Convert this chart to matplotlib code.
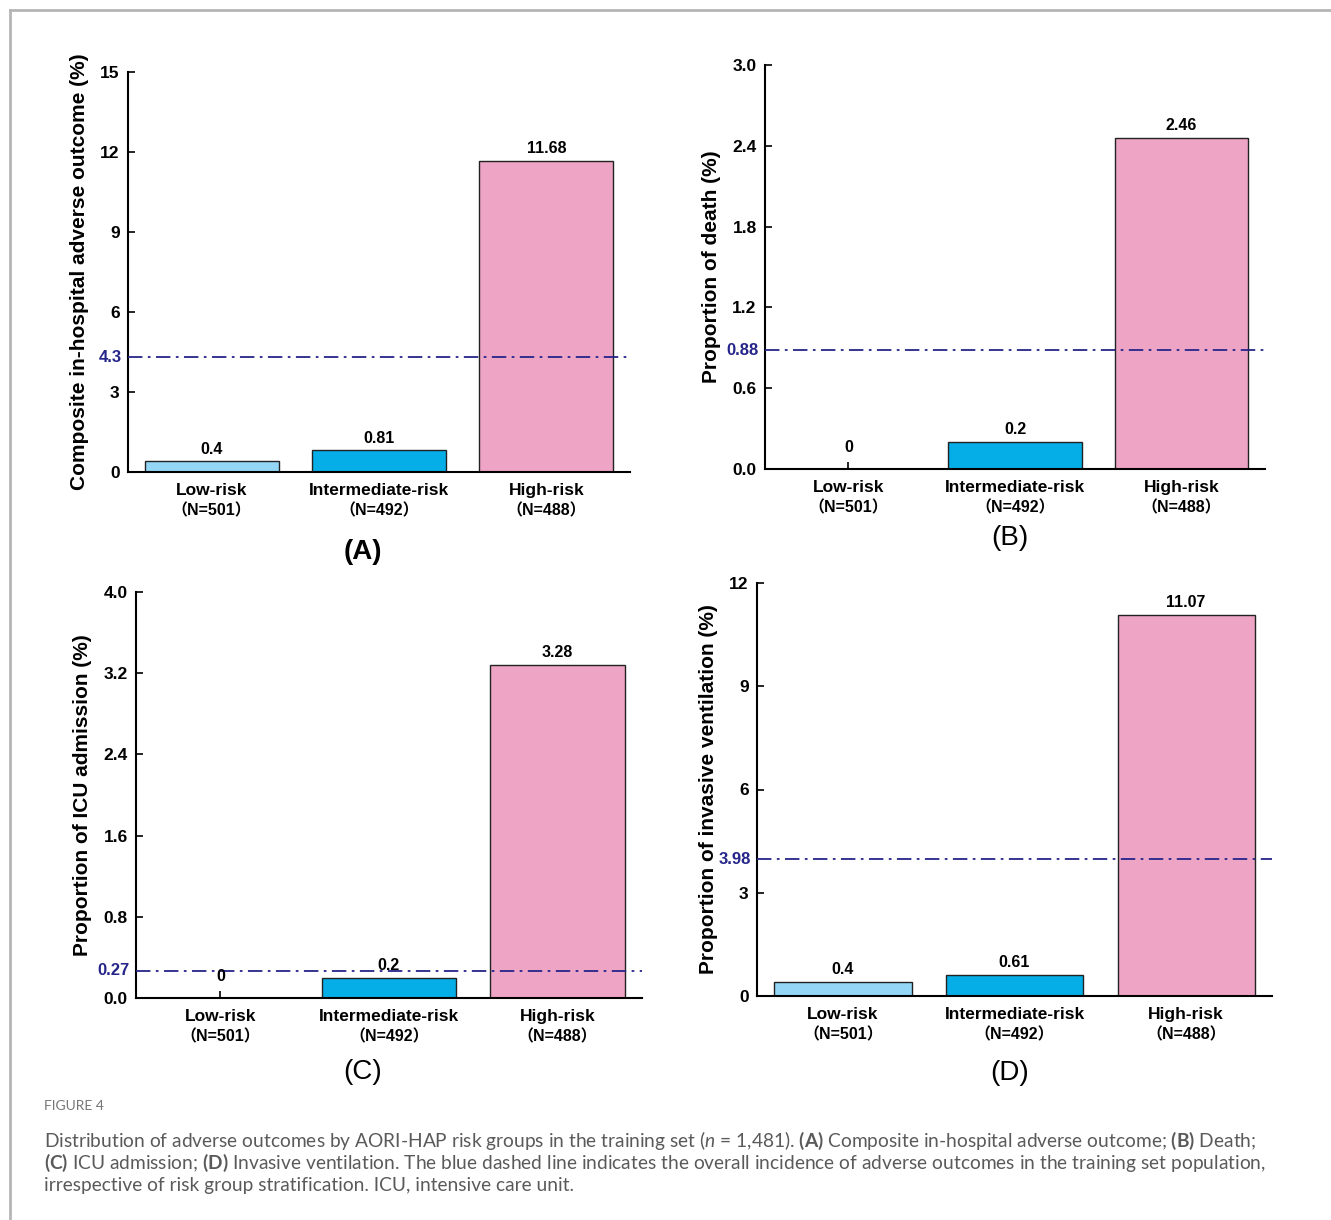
import numpy as np
import matplotlib
matplotlib.use("Agg")
import matplotlib.pyplot as plt
from matplotlib.lines import Line2D

plt.rcParams['font.family'] = ['Liberation Sans', 'Noto Sans CJK SC', 'DejaVu Sans']
plt.rcParams['mathtext.fontset'] = 'custom'
plt.rcParams['mathtext.rm'] = 'Lato'
plt.rcParams['mathtext.bf'] = 'Lato:bold'
plt.rcParams['mathtext.it'] = 'Lato:italic'

# data
groups = ["Low-risk", "Intermediate-risk", "High-risk"]
group_n = ["（N=501）", "（N=492）", "（N=488）"]
composite = [0.4, 0.81, 11.68]
death = [0, 0.2, 2.46]
icu = [0, 0.2, 3.28]
ventilation = [0.4, 0.61, 11.07]
overall = [4.3, 0.88, 0.27, 3.98]
panel_letters = ["(A)", "(B)", "(C)", "(D)"]
ylabels = ["Composite in-hospital adverse outcome (%)", "Proportion of death (%)",
           "Proportion of ICU admission (%)", "Proportion of invasive ventilation (%)"]
yticks = [[0, 3, 6, 9, 12, 15], [0.0, 0.6, 1.2, 1.8, 2.4, 3.0],
          [0.0, 0.8, 1.6, 2.4, 3.2, 4.0], [0, 3, 6, 9, 12]]
yfmt = ["{:.0f}", "{:.1f}", "{:.1f}", "{:.0f}"]
values = [composite, death, icu, ventilation]

bar_colors = ["#93d6f5", "#05aee6", "#eea4c5"]
navy = "#25258a"

W, H = 1331, 1220
fig = plt.figure(figsize=(W / 100, H / 100), dpi=100)

# axes boxes in pixels: left, right, top, bottom
boxes = [(128, 630, 72, 472), (765, 1265, 65, 469),
         (136, 642, 592, 998), (757, 1272, 583, 996)]
letter_xy = [(363, 552), (1010, 538), (363, 1072), (1010, 1073)]
letter_w = ["bold", "normal", "normal", "normal"]

for i in range(4):
    l, r, t, b = boxes[i]
    ax = fig.add_axes([l / W, 1 - b / H, (r - l) / W, (b - t) / H])
    x = np.arange(3)
    ax.bar(x, values[i], width=0.8, color=bar_colors, edgecolor="#222222", linewidth=1.0, zorder=2)
    ax.set_xlim(-0.5, 2.5)
    top = yticks[i][-1]
    ax.set_ylim(0, top)
    for xi, v in zip(x, values[i]):
        off = 0.012 if v > 0 else 0.035
        ax.text(xi, v + top * off, "{:g}".format(v), ha="center", va="bottom",
                fontsize=11.5, fontweight="bold", zorder=4)
    ax.axhline(overall[i], color=navy, linestyle=(0, (8, 3, 1.5, 3)), linewidth=1.3, zorder=3)
    ax.text(-0.012, overall[i], "{:g}".format(overall[i]), transform=ax.get_yaxis_transform(),
            ha="right", va="center", color=navy, fontsize=12, fontweight="bold")
    ax.set_yticks(yticks[i])
    ax.set_yticklabels([yfmt[i].format(v) for v in yticks[i]], fontsize=12.5, fontweight="bold")
    ax.set_xticks(x)
    ax.set_xticklabels(groups, fontsize=12.5, fontweight="bold")
    for xi, n in zip(x, group_n):
        ax.text(xi, -39 / (b - t), n, transform=ax.get_xaxis_transform(), ha="center", va="center",
                fontsize=11.5, fontweight="bold")
    ax.tick_params(axis="both", direction="in", length=5, width=1.2, pad=6)
    ax.tick_params(axis="x", pad=8)
    ax.spines["top"].set_visible(False)
    ax.spines["right"].set_visible(False)
    ax.spines["left"].set_linewidth(1.5)
    ax.spines["bottom"].set_linewidth(1.5)
    ax.set_ylabel(ylabels[i], fontsize=15, fontweight="bold", labelpad=8)
    lx, ly = letter_xy[i]
    fig.text(lx / W, 1 - ly / H, panel_letters[i], ha="center", va="center",
             fontsize=20, fontweight=letter_w[i])

# outer frame
fig.add_artist(Line2D([10 / W, 1], [1 - 10 / H, 1 - 10 / H], color="#b5b5b5", linewidth=2, transform=fig.transFigure))
fig.add_artist(Line2D([10 / W, 10 / W], [1 - 10 / H, 0], color="#b5b5b5", linewidth=2, transform=fig.transFigure))

# caption
cap_color = "#5a5a5a"
fig.text(44 / W, 1 - 1106 / H, "FIGURE 4", fontsize=10, color="#777777", va="center", family="Lato")
cap_lines = [
    r"Distribution of adverse outcomes by AORI-HAP risk groups in the training set ($\it{n}$ = 1,481). $\bf{(A)}$ Composite in-hospital adverse outcome; $\bf{(B)}$ Death;",
    r"$\bf{(C)}$ ICU admission; $\bf{(D)}$ Invasive ventilation. The blue dashed line indicates the overall incidence of adverse outcomes in the training set population,",
    "irrespective of risk group stratification. ICU, intensive care unit.",
]
cap_y = [1141, 1163, 1186]
for s, yy in zip(cap_lines, cap_y):
    fig.text(44 / W, 1 - yy / H, s, fontsize=13.8, color=cap_color, va="center", family="Lato")

fig.savefig("out.png", dpi=100)
